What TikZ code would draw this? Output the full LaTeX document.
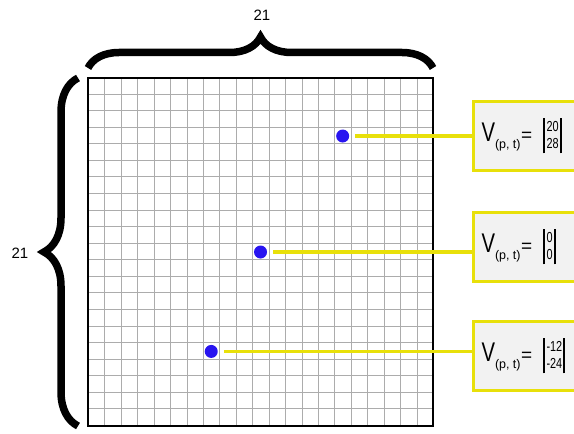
\documentclass[tikz,border=0pt]{standalone}
\usepackage{fontspec}
\setmainfont{Liberation Sans}
\usepackage{graphicx}
\usepackage{xcolor}
\usepackage{tikz}
\usetikzlibrary{decorations.pathreplacing}

\definecolor{velyellow}{RGB}{232,224,10}
\definecolor{velblue}{RGB}{40,20,240}
\definecolor{cellgray}{RGB}{172,172,172}

% velocity label: V_(p, t) = |a b|
\newcommand{\velo}[2]{%
  \scalebox{0.75}[1]{\fontsize{27}{27}\selectfont V}%
  \raisebox{-7pt}{\fontsize{12.5}{12.5}\selectfont (p, t)}%
  \hspace{0.5pt}{\fontsize{19}{19}\selectfont =}\hspace{11pt}%
  \rule[-12pt]{1.9pt}{35pt}\hspace{1.5pt}%
  \raisebox{-7pt}{\scalebox{0.75}[1]{\fontsize{14.5}{17}\selectfont\begin{tabular}[b]{@{}l@{}}#1\\#2\end{tabular}}}%
  \hspace{1pt}\rule[-12pt]{1.9pt}{35pt}}

\begin{document}
\begin{tikzpicture}[x=1pt, y=1pt,
    cellline/.style={cellgray, line width=1pt},
    bracestyle/.style={decorate, line width=7.5pt,
      decoration={brace, amplitude=#1}},
    dot/.style={circle, fill=velblue, inner sep=0pt, minimum size=13pt},
    velbox/.style={draw=velyellow, line width=3pt, fill=black!5,
      anchor=west, minimum height=69pt, text width=112pt, align=left,
      inner xsep=8pt},
    link/.style={draw=velyellow, line width=3.5pt, shorten <=6pt}]
  \clip (0,0) rectangle (574,434);
  \fill[white] (0,0) rectangle (574,434);

  % cell lines, snapped to whole points so they stay crisp
  \foreach \i in {1,...,20} {
    \pgfmathsetmacro\gx{round(88+\i*16.43)+0.5}
    \pgfmathsetmacro\gy{round(8+\i*16.57)+0.5}
    \draw[cellline] (\gx,8) -- (\gx,356);
    \draw[cellline] (88,\gy) -- (433,\gy);
  }

  % the 21 x 21 board
  \begin{scope}[shift={(88pt,8pt)}, x=16.43pt, y=16.57pt]
    \draw[line width=1.6pt] (0,0) rectangle (21,21);

    \node[dot] (dotA) at (15.5,17.5) {};
    \node[dot] (dotB) at (10.5,10.5) {};
    \node[dot] (dotC) at (7.5,4.5) {};
  \end{scope}

  % size braces
  \draw[bracestyle=31pt] (88,366) -- (433,366);
  \draw[bracestyle=34pt] (78,8) -- (78,356);
  \node[font=\fontsize{15}{15}\selectfont] (topsize) at (262,419) {21};
  \node[font=\fontsize{15}{15}\selectfont] (leftsize) at (20,181) {21};

  % velocity boxes
  \node[velbox] (velA) at (472,298) {\velo{20}{28}};
  \node[velbox] (velB) at (472,187) {\velo{0}{0}};
  \node[velbox] (velC) at (472,78) {\velo{-12}{-24}};

  \draw[link] (dotA) -- (dotA -| velA.west);
  \draw[link] (dotB) -- (dotB -| velB.west);
  \draw[link] (dotC) -- (dotC -| velC.west);
\end{tikzpicture}
\end{document}
